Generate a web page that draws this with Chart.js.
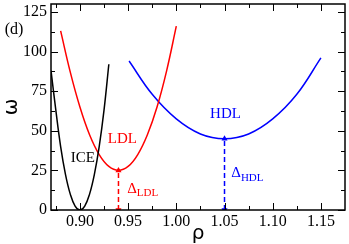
<!doctype html>
<html lang="en">
  <head>
    <meta charset="utf-8">
    <title>omega vs rho</title>
    <style>
      * { margin: 0; padding: 0; }
      body { background: #fff; }
      .chartBox { width: 349px; height: 244px; }
    </style>
  </head>
  <body>
    <div class="chartBox"><canvas id="myChart"></canvas></div>
    <script src="https://cdn.jsdelivr.net/npm/chart.js/dist/chart.umd.min.js"></script>
    <script>
    // values
    const iceRho = [0.870, 0.875, 0.880, 0.885, 0.890, 0.895, 0.900, 0.905, 0.910, 0.915, 0.920, 0.925, 0.930];
    const iceOmega = [88, 63, 40, 22.5, 10, 2.5, 0, 2.5, 10, 22.5, 40, 63, 92];

    const ldlRho = [0.880, 0.890, 0.900, 0.910, 0.920, 0.930, 0.940, 0.950, 0.960, 0.970, 0.980, 0.990, 1.000];
    const ldlOmega = [113, 87, 65, 47.5, 35, 27.5, 25, 27.5, 35, 47.5, 65, 88, 116];

    const hdlRho = [0.951, 0.975, 1.000, 1.025, 1.050, 1.075, 1.100, 1.125, 1.150];
    const hdlOmega = [94, 73, 57.5, 48, 45, 48, 57.5, 73, 96];

    const gapLdl = { rho: 0.94, omega: [0, 25] };
    const gapHdl = { rho: 1.05, omega: [0, 45] };

    const xTicks = [0.90, 0.95, 1.00, 1.05, 1.10, 1.15];
    const yTicks = [0, 25, 50, 75, 100, 125];

    // text labels: [text, subscript, rho, omega, colour]
    const notes = [
      ['ICE', '', 0.903, 33, '#000000'],
      ['LDL', '', 0.944, 45, '#ff0000'],
      ['HDL', '', 1.051, 60.5, '#0000ff'],
      ['\u0394', 'LDL', 0.949, 13.5, '#ff0000'],
      ['\u0394', 'HDL', 1.057, 23.5, '#0000ff']
    ];

    const pts = (xs, ys) => xs.map((x, i) => ({ x: x, y: ys[i] }));

    const serif = 'Liberation Serif';

    const curve = (label, xs, ys, color) => ({
      label, data: pts(xs, ys), borderColor: color, borderWidth: 1.5,
      showLine: true, pointRadius: 0, tension: 0.4, fill: false
    });

    const arrow = (label, g, color) => ({
      label, data: g.omega.map(v => ({ x: g.rho, y: v })),
      borderColor: color, backgroundColor: color, borderWidth: 1.5,
      borderDash: [5, 3], showLine: true,
      pointStyle: 'triangle', pointRadius: 3.5, pointRotation: [180, 0],
      pointBorderWidth: 0
    });

    const frameAndTicks = {
      id: 'frameAndTicks',
      afterDatasetsDraw(chart) {
        const { ctx, chartArea: a, scales: { x, y } } = chart;
        ctx.save();
        ctx.strokeStyle = '#000';
        ctx.lineWidth = 1;
        ctx.beginPath();
        xTicks.forEach(v => {
          const px = Math.round(x.getPixelForValue(v)) + 0.5;
          ctx.moveTo(px, a.bottom); ctx.lineTo(px, a.bottom - 7);
          ctx.moveTo(px, a.top); ctx.lineTo(px, a.top + 7);
          const pm = Math.round(x.getPixelForValue(v + 0.025)) + 0.5;
          if (pm < a.right) {
            ctx.moveTo(pm, a.bottom); ctx.lineTo(pm, a.bottom - 4);
            ctx.moveTo(pm, a.top); ctx.lineTo(pm, a.top + 4);
          }
        });
        const pm0 = Math.round(x.getPixelForValue(0.875)) + 0.5;
        ctx.moveTo(pm0, a.bottom); ctx.lineTo(pm0, a.bottom - 4);
        ctx.moveTo(pm0, a.top); ctx.lineTo(pm0, a.top + 4);
        yTicks.forEach(v => {
          const py = Math.round(y.getPixelForValue(v)) + 0.5;
          ctx.moveTo(a.left, py); ctx.lineTo(a.left + 7, py);
          ctx.moveTo(a.right, py); ctx.lineTo(a.right - 7, py);
          const pm = Math.round(y.getPixelForValue(v + 12.5)) + 0.5;
          if (pm > a.top) {
            ctx.moveTo(a.left, pm); ctx.lineTo(a.left + 4, pm);
            ctx.moveTo(a.right, pm); ctx.lineTo(a.right - 4, pm);
          }
        });
        ctx.stroke();
        ctx.lineWidth = 1.5;
        ctx.strokeRect(a.left, a.top, a.right - a.left, a.bottom - a.top);

        // text labels
        ctx.textBaseline = 'middle';
        notes.forEach(([t, sub, rx, oy, col]) => {
          const px = x.getPixelForValue(rx), py = y.getPixelForValue(oy);
          ctx.fillStyle = col;
          ctx.font = '15px "' + serif + '"';
          if (!sub) {
            ctx.textAlign = 'center';
            ctx.fillText(t, px, py);
          } else {
            ctx.textAlign = 'left';
            ctx.fillText(t, px, py);
            const w = ctx.measureText(t).width;
            ctx.font = '11px "' + serif + '"';
            ctx.fillText(sub, px + w, py + 5);
          }
        });
        ctx.fillStyle = '#000';
        ctx.textAlign = 'center';
        ctx.font = '16px "' + serif + '"';
        ctx.fillText('(d)', a.left - 37, y.getPixelForValue(114));
        ctx.restore();
      }
    };

    const data = {
      datasets: [
        curve('ICE', iceRho, iceOmega, '#000000'),
        curve('LDL', ldlRho, ldlOmega, '#ff0000'),
        curve('HDL', hdlRho, hdlOmega, '#0000ff'),
        arrow('Delta LDL', gapLdl, '#ff0000'),
        arrow('Delta HDL', gapHdl, '#0000ff')
      ]
    };

    const config = {
      type: 'scatter',
      data,
      plugins: [frameAndTicks],
      options: {
        animation: false,
        responsive: true,
        maintainAspectRatio: false,
        layout: { padding: { top: 2, right: 2, left: 0, bottom: 0 } },
        plugins: { legend: { display: false }, tooltip: { enabled: false } },
        scales: {
          x: {
            type: 'linear', min: 0.870, max: 1.175,
            afterBuildTicks: s => { s.ticks = xTicks.map(v => ({ value: v })); },
            afterFit: s => { s.height = 34; s.paddingLeft = 0; s.paddingRight = 0; },
            grid: { display: false, drawTicks: false },
            border: { display: false },
            ticks: {
              padding: 2, color: '#000', font: { family: serif, size: 16 },
              callback: v => v.toFixed(2)
            },
            title: {
              display: true, text: '\u03c1', color: '#000',
              font: { family: 'DejaVu Sans', size: 20, lineHeight: 1 },
              padding: { top: 0, bottom: 0 }
            }
          },
          y: {
            type: 'linear', min: 0, max: 130,
            afterBuildTicks: s => { s.ticks = yTicks.map(v => ({ value: v })); },
            afterFit: s => { s.width = 51; s.paddingTop = 0; s.paddingBottom = 0; },
            grid: { display: false, drawTicks: false },
            border: { display: false },
            ticks: { padding: 4, color: '#000', font: { family: serif, size: 16 } },
            title: {
              display: true, text: '\u03c9', color: '#000',
              font: { family: 'DejaVu Sans', size: 20, lineHeight: 1 },
              padding: { top: 2, bottom: 0 }
            }
          }
        }
      }
    };

    const myChart = new Chart(document.getElementById('myChart'), config);
    </script>
  </body>
</html>
